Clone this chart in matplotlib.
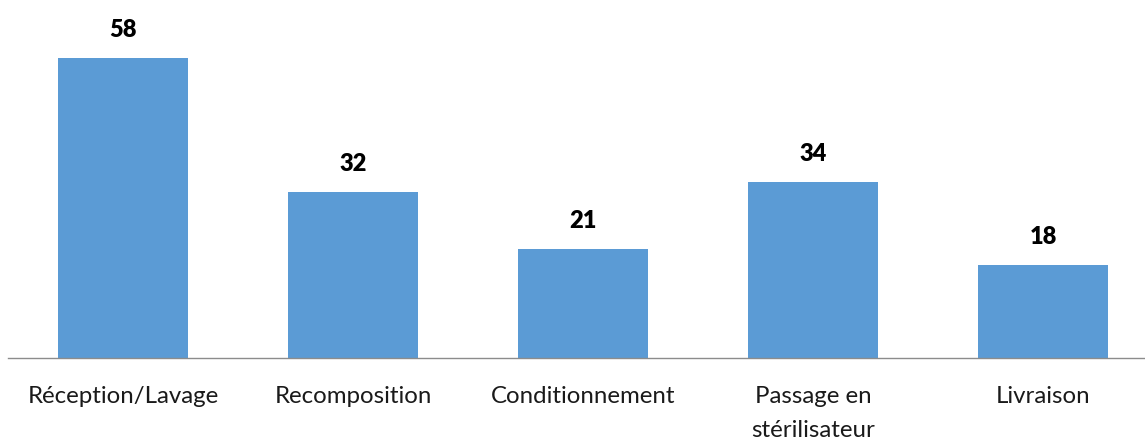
import matplotlib
matplotlib.use("Agg")
import matplotlib.pyplot as plt

categories = ["Réception/Lavage", "Recomposition", "Conditionnement", "Passage en\nstérilisateur", "Livraison"]
values = [58, 32, 21, 34, 18]

plt.rcParams['font.family'] = ['Lato', 'DejaVu Sans']

fig = plt.figure(figsize=(11.45, 4.39), dpi=100)
ax = fig.add_axes([8/1145, 80/439, (1145-8)/1145, 359/439])
x = list(range(len(categories)))
ax.bar(x, values, width=0.565, color="#5B9BD5", zorder=2)
for xi, v in zip(x, values):
    ax.annotate(str(v), (xi, v), xytext=(0, 13), textcoords="offset points",
                ha="center", va="bottom", fontsize=17, fontweight="heavy", color="black")
ax.set_xlim(-0.5, 4.443)
ax.set_ylim(0, 359/5.18)
ax.set_yticks([])
ax.set_xticks(x)
ax.set_xticklabels(categories, fontsize=17.3, color="#1a1a1a", linespacing=1.75)
ax.tick_params(axis='x', length=0, pad=19.5)
for s in ["top", "right", "left"]:
    ax.spines[s].set_visible(False)
ax.spines["bottom"].set_color("#8C8C8C")
ax.spines["bottom"].set_linewidth(1)
fig.savefig("out.png", dpi=100)
